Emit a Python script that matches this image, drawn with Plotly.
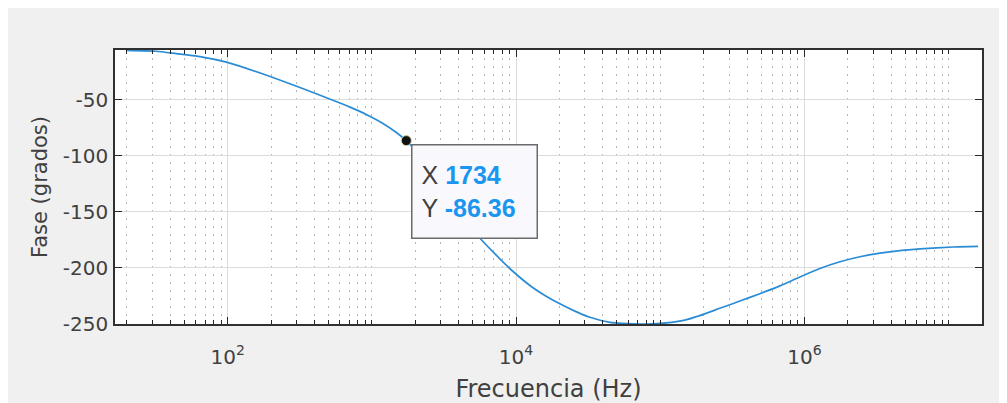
import math
import plotly.graph_objects as go

# ---- data (phase plot) ----
freq_hz = [20, 32, 44, 67, 98, 186, 317, 537, 705, 920, 1194, 1486, 1734,
           2156, 2528, 2967, 3480, 4083, 4790, 5623, 7145, 9080, 12480,
           15850, 20140, 25590, 32500, 44800, 60000, 80000, 110000, 148000,
           188000, 259000, 357000, 491000, 676000, 931000, 1282000, 1762000,
           2427000, 3342000, 4603000, 6339000, 10740000, 16000000]
phase_deg = [-5.8, -6.6, -8.8, -11.8, -16.3, -28, -39, -50.4, -56.5, -63.2,
             -71.0, -79.3, -86.36, -99.7, -111.5, -124.5, -138, -151, -163,
             -173.5, -187.5, -200.7, -215.6, -224.5, -232, -238.5, -244,
             -248.5, -249.6, -250, -249, -246.5, -242.5, -236, -229.5, -223,
             -216, -208, -200.5, -194.5, -190, -186.8, -184.5, -183, -181.3,
             -180.8]

tip_x = 1734
tip_y = -86.36

x_tickvals = [1e2, 1e4, 1e6]
x_ticktext = ["10<sup>2</sup>", "10<sup>4</sup>", "10<sup>6</sup>"]
y_tickvals = [-250, -200, -150, -100, -50]
y_ticktext = ["-250", "-200", "-150", "-100", "-50"]

x_title = "Frecuencia (Hz)"
y_title = "Fase (grados)"

# minor (dotted) grid positions on the log axis
minor_vals = [k * 10 ** n for n in range(1, 8) for k in range(1, 10)
              if k * 10 ** n not in x_tickvals and 16 <= k * 10 ** n <= 1.7e7]

fig = go.Figure()
fig.add_trace(go.Scatter(
    x=freq_hz, y=phase_deg, mode="lines",
    line=dict(color="#2b8cd6", width=1.7, shape="spline", smoothing=0.5),
    hoverinfo="skip", showlegend=False))
fig.add_trace(go.Scatter(
    x=[tip_x], y=[tip_y], mode="markers",
    marker=dict(color="#111111", size=10, line=dict(color="#e8e2a8", width=0.8)),
    hoverinfo="skip", showlegend=False))

FONT = "DejaVu Sans, sans-serif"
tick_font = dict(family=FONT, size=20, color="#404040")

fig.update_layout(
    width=999, height=395,
    margin=dict(l=107, r=25, t=42, b=79, autoexpand=False),
    paper_bgcolor="#f0f0f0", plot_bgcolor="#ffffff",
    xaxis=dict(
        type="log", range=[1.2185, 7.2316],
        tickmode="array", tickvals=x_tickvals, ticktext=x_ticktext,
        tickfont=tick_font, ticks="inside", ticklen=7, tickwidth=1.2,
        tickcolor="#262626", ticklabelstandoff=14,
        showline=True, linecolor="#303030", linewidth=1.5, mirror="allticks",
        showgrid=True, gridcolor="#dcdcdc", gridwidth=1,
        minor=dict(tickmode="array", tickvals=minor_vals, ticks="inside",
                   ticklen=4, tickcolor="#262626", showgrid=True,
                   gridcolor="#b4b4b4", griddash="1.5px,6.5px", gridwidth=1),
        title=dict(text=x_title, font=dict(family=FONT, size=24, color="#404040"),
                   standoff=14),
        zeroline=False, automargin=False),
    yaxis=dict(
        range=[-250, -5.5], tickmode="array", tickvals=y_tickvals,
        ticktext=y_ticktext,
        tickfont=tick_font, ticks="inside", ticklen=7, tickwidth=1.2,
        tickcolor="#262626", ticklabelstandoff=1,
        showline=True, linecolor="#303030", linewidth=1.5, mirror="allticks",
        showgrid=True, gridcolor="#dcdcdc", gridwidth=1,
        title=dict(text=y_title, font=dict(family=FONT, size=21, color="#404040"),
                   standoff=10),
        zeroline=False, automargin=False),
    annotations=[dict(
        x=math.log10(tip_x), y=tip_y, xref="x", yref="y",
        xanchor="left", yanchor="top",
        xshift=5, yshift=-3, showarrow=False, align="left",
        text=("X <span style='color:#1a96f0'><b>1734</b></span><br>"
              "Y <span style='color:#1a96f0'><b>-86.36</b></span>"),
        font=dict(family="Liberation Sans, Arial, sans-serif", size=25, color="#404040"),
        bgcolor="#f9f9fd", bordercolor="#6a6a6a", borderwidth=1.5, borderpad=9,
        width=106, height=74)],
)

fig.write_html("out.html")
